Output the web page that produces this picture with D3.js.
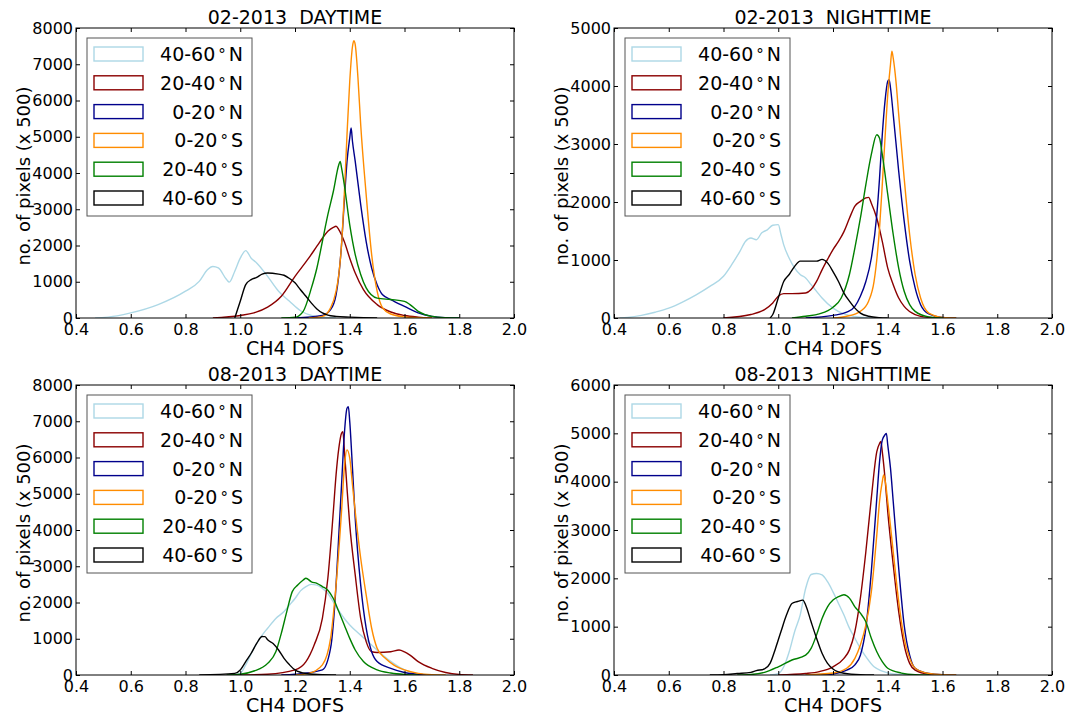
<!DOCTYPE html>
<html>
<head>
<meta charset="utf-8">
<script src="https://cdn.jsdelivr.net/npm/d3@7"></script>
<style>
  body { margin: 0; background: #fff; }
  svg { font-family: "DejaVu Sans", sans-serif; }
</style>
</head>
<body>
<div id="chart"></div>
<script>
// CH4 DOFS histograms, four panels, six latitude bands each

var bandLabels = ["40-60", "20-40", "0-20", "0-20", "20-40", "40-60"];
var bandHemis  = ["N", "N", "N", "S", "S", "S"];
var bandColors = ["#add8e6", "#8b0000", "#00008b", "#ff8c00", "#008000", "#000000"];

var panelTitles = ["02-2013  DAYTIME", "02-2013  NIGHTTIME", "08-2013  DAYTIME", "08-2013  NIGHTTIME"];
var panelYMax = [8000, 5000, 8000, 6000];
var xTicks = [0.4, 0.6, 0.8, 1.0, 1.2, 1.4, 1.6, 1.8, 2.0];

// ---- 02-2013 daytime ----
var febDay_40_60N = [[0.47,0],[0.55,60],[0.6,140],[0.7,370],[0.8,740],[0.85,1010],[0.88,1330],[0.9,1420],[0.92,1380],[0.95,1060],[0.96,990],[0.98,1290],[1.0,1650],[1.02,1860],[1.04,1650],[1.06,1520],[1.1,1150],[1.14,740],[1.18,460],[1.22,200],[1.26,70],[1.3,20],[1.35,0]];
var febDay_20_40N = [[0.9,0],[1.0,70],[1.05,140],[1.1,300],[1.15,600],[1.2,1150],[1.25,1650],[1.28,1980],[1.3,2200],[1.32,2390],[1.34,2500],[1.35,2530],[1.36,2440],[1.38,2110],[1.4,1650],[1.42,1240],[1.45,780],[1.5,370],[1.55,165],[1.6,70],[1.65,25],[1.7,0]];
var febDay_0_20N  = [[1.2,0],[1.3,70],[1.33,230],[1.35,640],[1.37,2020],[1.38,3220],[1.39,4320],[1.4,4970],[1.405,5240],[1.41,4870],[1.42,4320],[1.44,3130],[1.46,2110],[1.48,1380],[1.5,920],[1.52,640],[1.55,510],[1.6,320],[1.65,140],[1.7,45],[1.75,10],[1.8,0]];
var febDay_0_20S  = [[1.25,0],[1.3,45],[1.33,280],[1.35,740],[1.36,1200],[1.37,2020],[1.38,3400],[1.39,5060],[1.4,6530],[1.41,7490],[1.415,7650],[1.42,7540],[1.43,6620],[1.44,5330],[1.46,3400],[1.48,1750],[1.5,740],[1.52,280],[1.55,110],[1.6,30],[1.65,5],[1.7,0]];
var febDay_20_40S = [[1.15,0],[1.2,20],[1.23,185],[1.26,830],[1.28,1380],[1.3,2110],[1.32,2850],[1.34,3490],[1.36,4230],[1.365,4320],[1.37,4140],[1.38,3680],[1.4,2570],[1.42,1750],[1.44,1200],[1.46,830],[1.5,550],[1.55,510],[1.6,460],[1.62,370],[1.65,185],[1.7,45],[1.75,10],[1.8,0]];
var febDay_40_60S = [[0.98,0],[1.0,460],[1.02,920],[1.04,1060],[1.06,1120],[1.08,1210],[1.1,1240],[1.14,1210],[1.16,1180],[1.18,1090],[1.2,970],[1.22,780],[1.24,600],[1.26,410],[1.28,250],[1.3,140],[1.32,80],[1.35,45],[1.4,25],[1.45,10],[1.5,0]];

// ---- 02-2013 nighttime ----
var febNight_40_60N = [[0.42,0],[0.45,10],[0.5,45],[0.55,100],[0.6,170],[0.65,275],[0.7,400],[0.75,545],[0.8,720],[0.83,920],[0.86,1150],[0.88,1320],[0.9,1380],[0.92,1350],[0.94,1470],[0.96,1520],[0.98,1600],[1.0,1610],[1.01,1440],[1.02,1260],[1.04,1030],[1.06,860],[1.08,750],[1.1,690],[1.12,575],[1.14,460],[1.16,345],[1.2,170],[1.24,70],[1.28,25],[1.32,5],[1.36,0]];
var febNight_20_40N = [[0.8,0],[0.9,60],[0.95,145],[0.98,260],[1.0,375],[1.02,420],[1.05,420],[1.1,430],[1.12,490],[1.14,630],[1.16,830],[1.18,1010],[1.2,1180],[1.22,1320],[1.24,1490],[1.26,1720],[1.28,1930],[1.3,2010],[1.32,2070],[1.33,2080],[1.34,1980],[1.36,1720],[1.38,1320],[1.4,860],[1.42,575],[1.44,345],[1.46,200],[1.5,60],[1.55,10],[1.6,0]];
var febNight_0_20N  = [[1.1,0],[1.2,45],[1.25,100],[1.28,200],[1.3,375],[1.32,630],[1.34,1030],[1.36,1780],[1.37,2410],[1.38,3160],[1.39,3740],[1.4,4080],[1.405,4110],[1.41,3970],[1.42,3510],[1.44,2530],[1.46,1670],[1.48,980],[1.5,520],[1.52,230],[1.55,70],[1.6,10],[1.65,0]];
var febNight_0_20S  = [[1.2,0],[1.25,30],[1.3,115],[1.33,290],[1.35,630],[1.37,1550],[1.38,2300],[1.39,3100],[1.4,3850],[1.41,4370],[1.415,4600],[1.42,4480],[1.43,4080],[1.44,3510],[1.46,2410],[1.48,1440],[1.5,750],[1.52,345],[1.55,85],[1.6,10],[1.65,0]];
var febNight_20_40S = [[1.05,0],[1.1,30],[1.15,70],[1.2,185],[1.23,345],[1.26,750],[1.28,1210],[1.3,1720],[1.32,2300],[1.34,2820],[1.36,3160],[1.37,3100],[1.38,2820],[1.4,2130],[1.42,1440],[1.44,860],[1.46,460],[1.48,230],[1.5,115],[1.55,20],[1.6,0]];
var febNight_40_60S = [[0.97,0],[0.98,60],[1.0,345],[1.02,630],[1.04,750],[1.06,890],[1.08,980],[1.1,980],[1.14,980],[1.16,1010],[1.18,950],[1.2,800],[1.22,630],[1.24,430],[1.26,290],[1.28,170],[1.3,85],[1.33,30],[1.37,5],[1.4,0]];

// ---- 08-2013 daytime ----
var augDay_40_60N = [[0.97,0],[1.0,45],[1.02,280],[1.05,740],[1.08,1100],[1.1,1290],[1.13,1560],[1.16,1750],[1.18,1930],[1.2,2110],[1.22,2320],[1.24,2440],[1.26,2500],[1.28,2480],[1.3,2390],[1.32,2250],[1.35,1890],[1.38,1560],[1.4,1380],[1.44,1100],[1.48,830],[1.52,550],[1.56,320],[1.6,140],[1.65,30],[1.7,5],[1.75,0]];
var augDay_20_40N = [[1.0,0],[1.1,20],[1.2,140],[1.24,370],[1.27,830],[1.3,1560],[1.32,2670],[1.34,4510],[1.35,5520],[1.36,6250],[1.37,6670],[1.375,6710],[1.38,6250],[1.39,5150],[1.4,4140],[1.42,2760],[1.44,1560],[1.46,920],[1.48,640],[1.5,620],[1.55,640],[1.58,690],[1.6,640],[1.62,550],[1.65,370],[1.7,185],[1.75,70],[1.8,15],[1.85,0]];
var augDay_0_20N  = [[1.15,0],[1.2,20],[1.3,140],[1.33,740],[1.35,2480],[1.36,3860],[1.37,5240],[1.38,6620],[1.39,7360],[1.395,7400],[1.4,6990],[1.41,5700],[1.42,4320],[1.44,2480],[1.46,1290],[1.48,640],[1.5,370],[1.55,185],[1.6,70],[1.65,20],[1.7,0]];
var augDay_0_20S  = [[1.2,0],[1.25,45],[1.3,280],[1.33,1010],[1.35,2480],[1.37,4510],[1.38,5700],[1.39,6210],[1.4,5980],[1.41,5240],[1.42,4510],[1.44,3220],[1.46,2210],[1.48,1290],[1.5,740],[1.53,460],[1.56,280],[1.6,140],[1.65,45],[1.7,10],[1.75,0]];
var augDay_20_40S = [[0.95,0],[1.0,20],[1.05,110],[1.1,320],[1.13,640],[1.15,1150],[1.17,1750],[1.19,2300],[1.21,2480],[1.23,2620],[1.24,2670],[1.26,2570],[1.28,2530],[1.3,2440],[1.32,2340],[1.34,2110],[1.36,1750],[1.38,1380],[1.4,1010],[1.42,690],[1.45,370],[1.5,140],[1.55,55],[1.6,15],[1.65,0]];
var augDay_40_60S = [[0.85,0],[0.98,45],[1.0,140],[1.02,370],[1.04,600],[1.06,870],[1.08,1060],[1.09,1060],[1.1,970],[1.12,870],[1.14,690],[1.16,460],[1.18,280],[1.2,140],[1.24,40],[1.3,5],[1.35,0]];

// ---- 08-2013 nighttime ----
var augNight_40_60N = [[0.97,0],[1.0,30],[1.02,170],[1.04,480],[1.06,900],[1.08,1240],[1.1,1790],[1.12,2080],[1.14,2100],[1.16,2070],[1.18,1930],[1.2,1720],[1.22,1480],[1.24,1240],[1.26,970],[1.28,760],[1.3,550],[1.32,380],[1.35,170],[1.38,80],[1.42,20],[1.46,5],[1.5,0]];
var augNight_20_40N = [[1.0,0],[1.1,30],[1.15,70],[1.2,170],[1.24,345],[1.26,520],[1.28,900],[1.3,1590],[1.32,2550],[1.34,3660],[1.36,4620],[1.37,4790],[1.375,4830],[1.38,4620],[1.39,4070],[1.4,3380],[1.42,2280],[1.44,1310],[1.46,620],[1.48,240],[1.5,100],[1.55,15],[1.6,0]];
var augNight_0_20N  = [[1.1,0],[1.2,20],[1.25,100],[1.28,210],[1.3,410],[1.32,970],[1.34,2140],[1.36,3660],[1.37,4410],[1.38,4860],[1.39,4970],[1.395,5000],[1.4,4760],[1.41,4280],[1.42,3590],[1.44,2210],[1.46,1030],[1.48,410],[1.5,140],[1.55,30],[1.6,5],[1.65,0]];
var augNight_0_20S  = [[1.1,0],[1.2,40],[1.25,140],[1.28,345],[1.3,620],[1.32,1030],[1.34,1720],[1.36,2900],[1.37,3590],[1.38,4000],[1.385,4140],[1.39,4040],[1.4,3590],[1.42,2550],[1.44,1520],[1.46,760],[1.48,345],[1.5,140],[1.55,30],[1.6,5],[1.65,0]];
var augNight_20_40S = [[0.85,0],[0.9,10],[0.95,55],[1.0,170],[1.05,310],[1.1,410],[1.12,550],[1.14,830],[1.16,1170],[1.18,1410],[1.2,1550],[1.22,1620],[1.24,1660],[1.26,1590],[1.28,1410],[1.3,1280],[1.32,1100],[1.34,760],[1.36,480],[1.38,275],[1.4,140],[1.45,40],[1.5,5],[1.55,0]];
var augNight_40_60S = [[0.75,0],[0.8,5],[0.85,30],[0.9,55],[0.92,90],[0.95,125],[0.97,240],[0.99,550],[1.01,900],[1.03,1240],[1.05,1480],[1.07,1520],[1.09,1550],[1.1,1450],[1.12,1100],[1.14,760],[1.16,450],[1.18,240],[1.2,125],[1.24,35],[1.3,5],[1.35,0]];

var panelSeries = [
  [febDay_40_60N, febDay_20_40N, febDay_0_20N, febDay_0_20S, febDay_20_40S, febDay_40_60S],
  [febNight_40_60N, febNight_20_40N, febNight_0_20N, febNight_0_20S, febNight_20_40S, febNight_40_60S],
  [augDay_40_60N, augDay_20_40N, augDay_0_20N, augDay_0_20S, augDay_20_40S, augDay_40_60S],
  [augNight_40_60N, augNight_20_40N, augNight_0_20N, augNight_0_20S, augNight_20_40S, augNight_40_60S]
];

var W = 1069, H = 718;
var pw = 438, ph = 290;
var origins = [[76, 28], [614, 28], [76, 385], [614, 385]];

var svg = d3.select("#chart").append("svg")
  .attr("width", W)
  .attr("height", H);

panelTitles.forEach(function(title, i) {
  var g = svg.append("g")
    .attr("transform", "translate(" + origins[i][0] + "," + origins[i][1] + ")");

  var x = d3.scaleLinear().domain([0.4, 2.0]).range([0, pw]);
  var y = d3.scaleLinear().domain([0, panelYMax[i]]).range([ph, 0]);

  var clipId = "clip" + i;
  g.append("clipPath").attr("id", clipId)
    .append("rect").attr("width", pw).attr("height", ph);

  // curves
  var line = d3.line()
    .x(function(d) { return x(d[0]); })
    .y(function(d) { return y(d[1]); })
    .curve(d3.curveMonotoneX);

  g.append("g").attr("clip-path", "url(#" + clipId + ")")
    .selectAll("path")
    .data(panelSeries[i])
    .enter().append("path")
      .attr("d", line)
      .attr("fill", "none")
      .attr("stroke", function(d, j) { return bandColors[j]; })
      .attr("stroke-width", 1.4);

  var yTicks = d3.range(0, panelYMax[i] + 1, 1000);

  // axes: bottom/left with labels, top/right ticks only, all ticks inward
  g.append("g")
    .attr("transform", "translate(0," + ph + ")")
    .call(d3.axisBottom(x).tickValues(xTicks).tickFormat(d3.format(".1f")).tickSizeInner(-4).tickSizeOuter(0).tickPadding(6))
    .call(function(a) { a.select(".domain").remove(); a.selectAll("text").attr("font-size", 16).attr("font-family", "DejaVu Sans"); });
  g.append("g")
    .call(d3.axisTop(x).tickValues(xTicks).tickFormat("").tickSizeInner(-4).tickSizeOuter(0))
    .call(function(a) { a.select(".domain").remove(); });
  g.append("g")
    .call(d3.axisLeft(y).tickValues(yTicks).tickFormat(d3.format("d")).tickSizeInner(-4).tickSizeOuter(0).tickPadding(3))
    .call(function(a) { a.select(".domain").remove(); a.selectAll("text").attr("font-size", 16).attr("font-family", "DejaVu Sans"); });
  g.append("g")
    .attr("transform", "translate(" + pw + ",0)")
    .call(d3.axisRight(y).tickValues(yTicks).tickFormat("").tickSizeInner(-4).tickSizeOuter(0))
    .call(function(a) { a.select(".domain").remove(); });

  g.append("rect")
    .attr("width", pw).attr("height", ph)
    .attr("fill", "none").attr("stroke", "#000").attr("stroke-width", 1);

  g.append("text")
    .attr("x", pw / 2).attr("y", -4)
    .attr("text-anchor", "middle")
    .attr("font-size", 19)
    .style("white-space", "pre")
    .text(title);

  g.append("text")
    .attr("x", pw / 2).attr("y", ph + 37)
    .attr("text-anchor", "middle")
    .attr("font-size", 19)
    .text("CH4 DOFS");

  g.append("text")
    .attr("transform", "translate(-46," + (ph / 2 + 3) + ") rotate(-90)")
    .attr("text-anchor", "middle")
    .attr("font-size", 18)
    .text("no. of pixels (x 500)");

  // legend
  var lg = g.append("g").attr("transform", "translate(11,10)");
  lg.append("rect")
    .attr("width", 165).attr("height", 178)
    .attr("fill", "#fff").attr("stroke", "#555").attr("stroke-width", 1);

  bandLabels.forEach(function(lab, j) {
    var cy = 16 + j * 28.8;
    lg.append("rect")
      .attr("x", 7).attr("y", cy - 7)
      .attr("width", 49).attr("height", 14)
      .attr("fill", "none")
      .attr("stroke", bandColors[j]).attr("stroke-width", 1.4);
    var t = lg.append("text")
      .attr("x", 156).attr("y", cy + 7)
      .attr("text-anchor", "end")
      .attr("font-size", 19);
    t.append("tspan").text(lab);
    t.append("tspan").attr("dx", 3).attr("font-size", 15).attr("dy", -1).text("\u00b0");
    t.append("tspan").attr("dx", 3).attr("dy", 1).text(bandHemis[j]);
  });
});
</script>
</body>
</html>
